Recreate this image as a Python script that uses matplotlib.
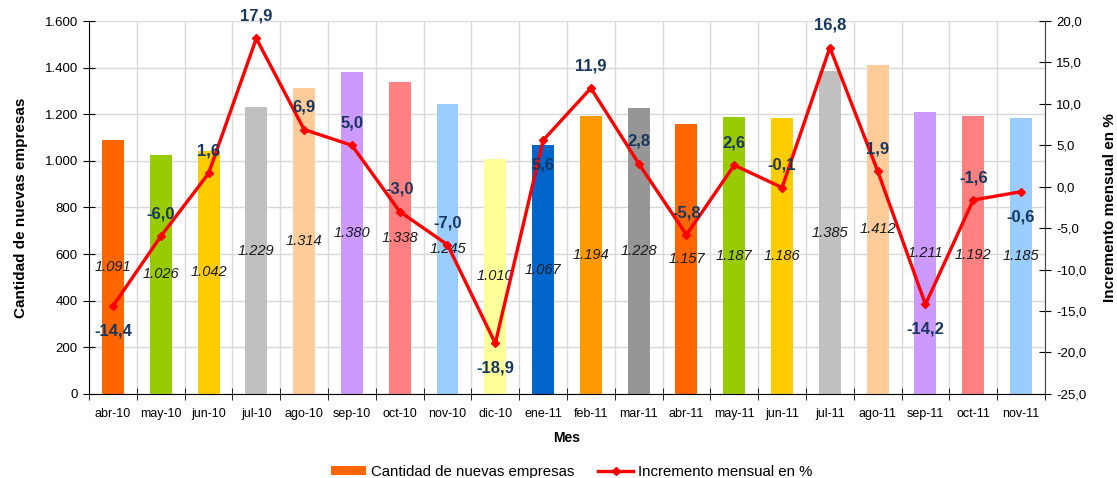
import matplotlib
matplotlib.use("Agg")
import matplotlib.pyplot as plt
import numpy as np
from matplotlib.ticker import FuncFormatter, MultipleLocator
from matplotlib.patches import Patch
from matplotlib.lines import Line2D

plt.rcParams['font.family'] = ['Liberation Sans', 'DejaVu Sans']

months = ["abr-10", "may-10", "jun-10", "jul-10", "ago-10", "sep-10", "oct-10", "nov-10",
          "dic-10", "ene-11", "feb-11", "mar-11", "abr-11", "may-11", "jun-11", "jul-11",
          "ago-11", "sep-11", "oct-11", "nov-11"]
empresas = [1091, 1026, 1042, 1229, 1314, 1380, 1338, 1245, 1010, 1067, 1194, 1228,
            1157, 1187, 1186, 1385, 1412, 1211, 1192, 1185]
incremento = [-14.4, -6.0, 1.6, 17.9, 6.9, 5.0, -3.0, -7.0, -18.9, 5.6, 11.9, 2.8,
              -5.8, 2.6, -0.1, 16.8, 1.9, -14.2, -1.6, -0.6]
bar_colors = ["#FF6600", "#99CC00", "#FFCC00", "#C0C0C0", "#FFCC99", "#CC99FF", "#FF8080",
              "#99CCFF", "#FFFF99", "#0066CC", "#FF9900", "#969696", "#FF6600", "#99CC00",
              "#FFCC00", "#C0C0C0", "#FFCC99", "#CC99FF", "#FF8080", "#99CCFF"]
# label placement of percentage labels: 1 = above, -1 = below
label_side = [-1, 1, 1, 1, 1, 1, 1, 1, -1, -1, 1, 1, 1, 1, 1, 1, 1, -1, 1, -1]

fig = plt.figure(figsize=(11.17, 4.78), dpi=100)
ax = fig.add_axes([0.0797, 0.176, 0.8558, 0.780])
x = np.arange(len(months))

ax.bar(x, empresas, width=0.46, color=bar_colors, zorder=2)
ax.set_xlim(-0.5, len(months) - 0.5)
ax.set_ylim(0, 1600)
ax.yaxis.set_major_locator(MultipleLocator(200))
ax.yaxis.set_major_formatter(FuncFormatter(lambda v, p: f"{int(v):,}".replace(",", ".")))
ax.set_xticks(x)
ax.set_xticklabels(months, fontsize=9)
ax.tick_params(axis='x', which='major', length=0, pad=10)
ax.set_xticks(np.arange(-0.5, len(months)), minor=True)
ax.tick_params(axis='x', which='minor', length=8, direction='inout', color='black')
ax.tick_params(axis='y', which='major', length=8, direction='inout', labelsize=9.5, pad=4)
ax.grid(axis='y', which='major', color='#D9D9D9', linewidth=1, zorder=0)
ax.grid(axis='x', which='minor', color='#D9D9D9', linewidth=1, zorder=0)
ax.set_axisbelow(True)
for s in ['top', 'right']:
    ax.spines[s].set_visible(False)
ax.spines['left'].set_color('black')
ax.spines['bottom'].set_color('black')

for xi, v in zip(x, empresas):
    ax.text(xi, v / 2, f"{v:,}".replace(",", "."), ha='center', va='center',
            fontsize=10.5, style='italic', color='#1a1a1a', zorder=3)

ax.set_ylabel("Cantidad de nuevas empresas", fontsize=11, fontweight='bold', labelpad=12)
ax.set_xlabel("Mes", fontsize=10, fontweight='bold', labelpad=8)

ax2 = ax.twinx()
ax2.set_ylim(-25, 20)
ax2.yaxis.set_major_locator(MultipleLocator(5))
ax2.yaxis.set_major_formatter(FuncFormatter(lambda v, p: f"{v:.1f}".replace(".", ",")))
ax2.tick_params(axis='y', length=8, direction='inout', labelsize=9.5, pad=4)
for s in ['top', 'left', 'bottom']:
    ax2.spines[s].set_visible(False)
ax2.spines['right'].set_color('#404040')
ax2.plot(x, incremento, color='#FF0000', linewidth=2.4, marker='D', markersize=4.5, zorder=4)
for xi, v, side in zip(x, incremento, label_side):
    off = 16 if side > 0 else -18
    ax2.annotate(f"{v:.1f}".replace(".", ","), (xi, v), xytext=(0, off), textcoords='offset points',
                 ha='center', va='center', fontsize=12, fontweight='bold', color='#17375E', zorder=5)
ax2.set_ylabel("Incremento mensual en %", fontsize=11, fontweight='bold', labelpad=12)

handles = [Patch(facecolor='#FF6600', edgecolor='none'),
           Line2D([0], [0], color='#FF0000', linewidth=2.4, marker='D', markersize=4.5)]
fig.legend(handles, ["Cantidad de nuevas empresas", "Incremento mensual en %"],
           loc='lower center', bbox_to_anchor=(0.512, -0.03), ncol=2, frameon=False,
           fontsize=10.8, handlelength=2.3, handleheight=0.55, columnspacing=1.6, handletextpad=0.35)

fig.savefig("out.png", dpi=100)
